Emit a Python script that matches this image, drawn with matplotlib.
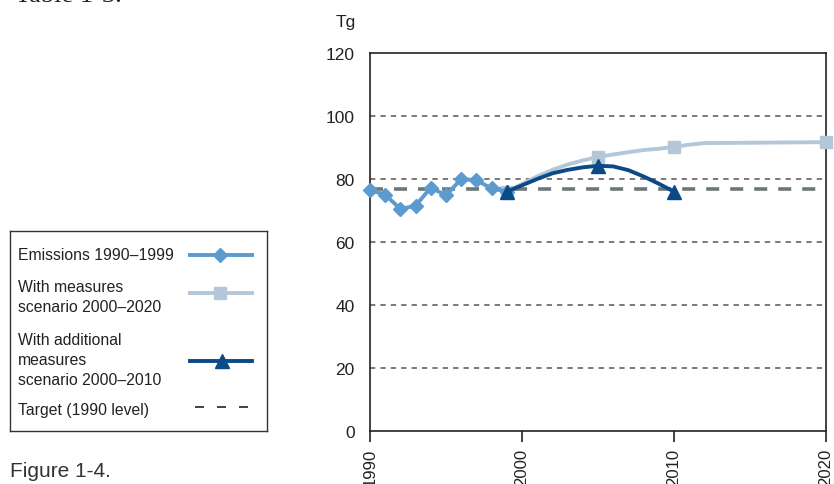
import matplotlib
matplotlib.use("Agg")
import matplotlib.pyplot as plt

plt.rcParams['font.family'] = ['Liberation Sans Narrow', 'Liberation Sans', 'DejaVu Sans']

# data (Tg)
hist_years = [1990, 1991, 1992, 1993, 1994, 1995, 1996, 1997, 1998, 1999]
hist_vals = [76.5, 75.0, 70.5, 71.5, 77.3, 74.8, 80.0, 79.6, 77.0, 76.0]

wm_years = [1999, 2000, 2001, 2002, 2003, 2004, 2005, 2006, 2007, 2008, 2009, 2010, 2011, 2012, 2020]
wm_vals = [76.0, 78.4, 80.8, 82.9, 84.6, 85.9, 87.0, 87.8, 88.5, 89.2, 89.6, 90.2, 90.9, 91.4, 91.7]
wm_marker_years = [1999, 2005, 2010, 2020]

wam_years = [1999, 2000, 2001, 2002, 2003, 2004, 2005, 2006, 2007, 2008, 2009, 2010]
wam_vals = [76.0, 78.0, 80.0, 81.8, 82.9, 83.7, 84.2, 84.0, 82.8, 80.8, 78.5, 76.0]
wam_marker_years = [1999, 2005, 2010]

target = 76.8
grid_levels = [20, 40, 60, 80, 100]
y_ticks = [0, 20, 40, 60, 80, 100, 120]
x_ticks = [1990, 2000, 2010, 2020]

legend_labels = ["Emissions 1990\u20131999",
                 "With measures\nscenario 2000\u20132020",
                 "With additional\nmeasures\nscenario 2000\u20132010",
                 "Target (1990 level)"]

C_HIST = '#5b9bd0'
C_WM = '#b4c7d8'
C_WAM = '#0b4a87'
C_TGT = '#6c7777'

W, H = 834, 485
fig = plt.figure(figsize=(W / 100, H / 100), dpi=100)

ax = fig.add_axes([370 / W, (H - 432) / H, 456 / W, 378 / H])
ax.set_xlim(1990, 2020)
ax.set_ylim(0, 120)

for g in grid_levels:
    ax.axhline(g, color='#555555', lw=1.1, dashes=(3.5, 3.3), zorder=1)
ax.axhline(target, color=C_TGT, lw=2.6, dashes=(3.6, 3.05), zorder=2)

ax.plot(wm_years, wm_vals, color=C_WM, lw=2.8, marker='s', ms=8.5,
        markevery=[wm_years.index(y) for y in wm_marker_years], zorder=3, clip_on=False)
ax.plot(hist_years, hist_vals, color=C_HIST, lw=2.8, marker='D', ms=7.5, zorder=4, clip_on=False)
ax.plot(wam_years, wam_vals, color=C_WAM, lw=2.8, marker='^', ms=9.5,
        markevery=[wam_years.index(y) for y in wam_marker_years], zorder=5, clip_on=False)

ax.set_yticks(y_ticks)
ax.set_xticks(x_ticks)
ax.set_xticklabels([str(x) for x in x_ticks], rotation=90, va='top')
ax.tick_params(axis='y', length=0, pad=11, labelsize=12.5, colors='#222222')
ax.tick_params(axis='x', direction='out', length=8, width=1.2, pad=4,
               labelsize=12, colors='#222222')
for s in ax.spines.values():
    s.set_color('#222222')
    s.set_linewidth(1.2)

fig.text(346 / W, 1 - 22 / H, "Tg", ha='center', va='center', fontsize=12.5, color='#222222')

# legend box drawn by hand
lg = fig.add_axes([10 / W, (H - 432) / H, 257 / W, 200 / H])
lg.set_xlim(0, 257)
lg.set_ylim(200, 0)
lg.set_xticks([])
lg.set_yticks([])
for s in lg.spines.values():
    s.set_color('#333333')
    s.set_linewidth(1.0)

text_y = [23.5, 65.5, 128.5, 178]
line_y = [23.5, 62, 129.5, 176]
for lab, ty in zip(legend_labels, text_y):
    lg.text(8, ty, lab, ha='left', va='center', fontsize=11.3, color='#222222', linespacing=1.4)
lg.plot([180, 242], [line_y[0]] * 2, color=C_HIST, lw=2.8)
lg.plot([210], [line_y[0]], color=C_HIST, marker='D', ms=7.5)
lg.plot([180, 242], [line_y[1]] * 2, color=C_WM, lw=2.8)
lg.plot([210], [line_y[1]], color=C_WM, marker='s', ms=8.5)
lg.plot([180, 242], [line_y[2]] * 2, color=C_WAM, lw=2.8)
lg.plot([212], [line_y[2]], color=C_WAM, marker='^', ms=9.5)
lg.plot([185, 238], [line_y[3]] * 2, color='#222222', lw=1.2, dashes=(5.4, 7.8))

fig.text(10 / W, 8 / H, "Figure 1-4.", ha='left', va='baseline', fontsize=15, color='#333333')
fig.text(15 / W, 1 - 2.0 / H, "Table 1-3.", ha='left', va='baseline', fontsize=19,
         family=['Liberation Serif', 'DejaVu Serif'], color='#222222')

fig.savefig('out.png', dpi=100)
